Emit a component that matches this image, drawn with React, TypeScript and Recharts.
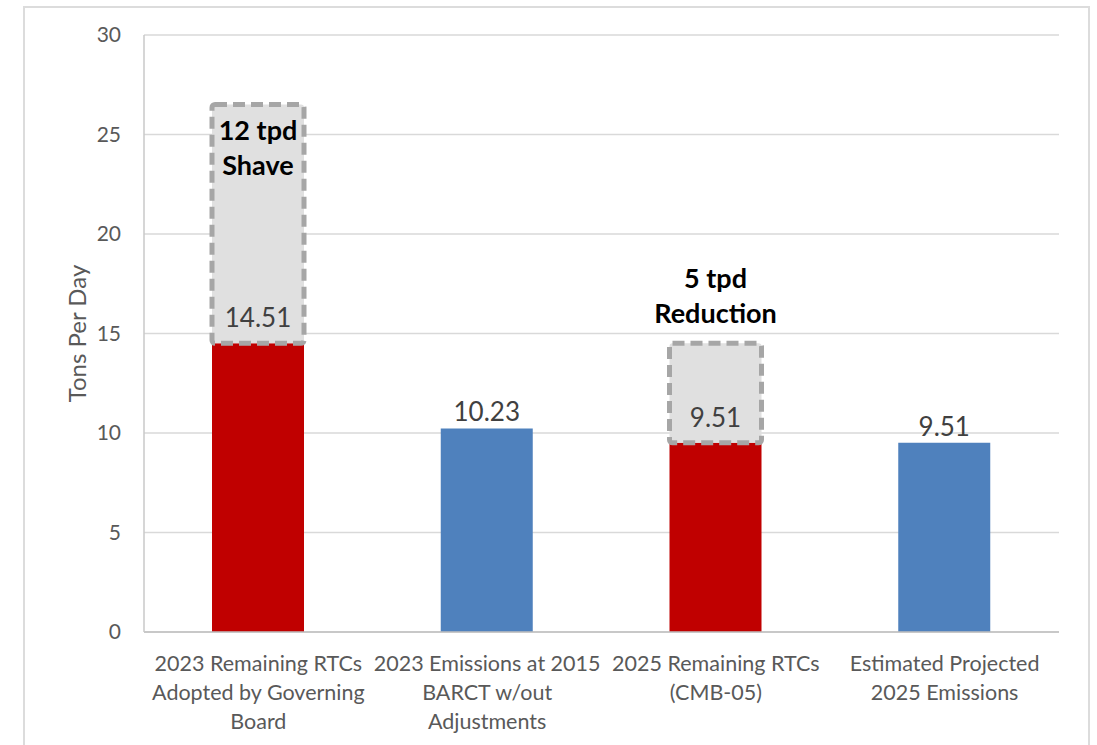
import { BarChart, Bar, XAxis, YAxis, CartesianGrid, Cell } from "recharts";

const categories = ["c1", "c2", "c3", "c4"];
const categoryLines = [
  ["2023 Remaining RTCs", "Adopted by Governing", "Board"],
  ["2023 Emissions at 2015", "BARCT w/out", "Adjustments"],
  ["2025 Remaining RTCs", "(CMB-05)"],
  ["Estimated Projected", "2025 Emissions"],
];
const baseValues = [14.51, 10.23, 9.51, 9.51];
const cutValues = [12, 0, 5, 0];
const baseColors = ["#c00000", "#4f81bd", "#c00000", "#4f81bd"];
const notes = [["12 tpd", "Shave"], [], ["5 tpd", "Reduction"], []];
const yTicks = [0, 5, 10, 15, 20, 25, 30];

const data = categories.map((c, i) => ({
  name: c,
  base: baseValues[i],
  cut: cutValues[i],
}));

const FONT = "Lato, 'Open Sans', sans-serif";
const GREY_TEXT = "#595959";

const CategoryTick = (props: any) => {
  const { x, y, payload } = props;
  const lines = categoryLines[payload.index] || [];
  return (
    <g>
      {lines.map((l, k) => (
        <text
          key={k}
          x={x}
          y={y + 31 + k * 29}
          textAnchor="middle"
          fontSize={21.5}
          fontFamily={FONT}
          fill={GREY_TEXT}
        >
          {l}
        </text>
      ))}
    </g>
  );
};

// grey dashed box on top of the base bar, plus the value label and the note
const CutShape = (props: any) => {
  const { x, y, width, height, index } = props;
  const hasBox = height > 0;
  const note = notes[index] || [];
  const inside = height > 150;
  return (
    <g>
      {hasBox && (
        <rect
          x={x}
          y={y}
          width={width}
          height={height}
          rx={3}
          fill="#e0e0e0"
          stroke="#a6a6a6"
          strokeWidth={5}
          strokeDasharray="12 6"
        />
      )}
      <text
        x={x + width / 2}
        y={y + height - (hasBox ? 16 : 7)}
        textAnchor="middle"
        fontSize={26}
        fontFamily={FONT}
        fill="#404040"
      >
        {baseValues[index]}
      </text>
      {note.map((l, k) => (
        <text
          key={k}
          x={x + width / 2}
          y={inside ? y + 36 + k * 35 : y - 55 + k * 35}
          textAnchor="middle"
          fontSize={27}
          fontWeight="bold"
          fontFamily={FONT}
          fill="#000"
        >
          {l}
        </text>
      ))}
    </g>
  );
};

export default function App() {
  return (
    <div style={{ position: "absolute", left: 0, top: 0, width: 1097, height: 745, overflow: "hidden", background: "#fff" }}>
      <div
        style={{
          position: "absolute",
          left: 23,
          top: 6,
          width: 1063,
          height: 800,
          border: "2px solid #dcdcdc",
        }}
      />
      <div style={{ position: "absolute", left: 0, top: 0 }}>
        <BarChart
          width={1097}
          height={745}
          data={data}
          margin={{ top: 35, right: 38, left: 34, bottom: 13 }}
        >
          <CartesianGrid vertical={false} stroke="#d9d9d9" strokeWidth={1.5} />
          <XAxis
            dataKey="name"
            height={100}
            axisLine={{ stroke: "#bfbfbf", strokeWidth: 1.5 }}
            tickLine={false}
            interval={0}
            tick={<CategoryTick />}
          />
          <YAxis
            width={110}
            domain={[0, 30]}
            ticks={yTicks}
            interval={0}
            axisLine={{ stroke: "#c8c8c8", strokeWidth: 1.5 }}
            tickLine={false}
            tickMargin={17}
            tick={{ fontSize: 21, fill: GREY_TEXT, fontFamily: FONT }}
            label={{
              content: (p: any) => {
                const vb = p.viewBox;
                const cx = vb.x + 42;
                const cy = vb.y + vb.height / 2;
                return (
                  <text
                    x={cx}
                    y={cy}
                    transform={`rotate(-90 ${cx} ${cy})`}
                    textAnchor="middle"
                    dominantBaseline="central"
                    fontSize={24}
                    fontFamily={FONT}
                    fill={GREY_TEXT}
                  >
                    Tons Per Day
                  </text>
                );
              },
            }}
          />
          <Bar dataKey="base" stackId="s" barSize={92} isAnimationActive={false}>
            {data.map((d, i) => (
              <Cell key={d.name} fill={baseColors[i]} />
            ))}
          </Bar>
          <Bar dataKey="cut" stackId="s" barSize={92} isAnimationActive={false} shape={<CutShape />} />
        </BarChart>
      </div>
    </div>
  );
}
